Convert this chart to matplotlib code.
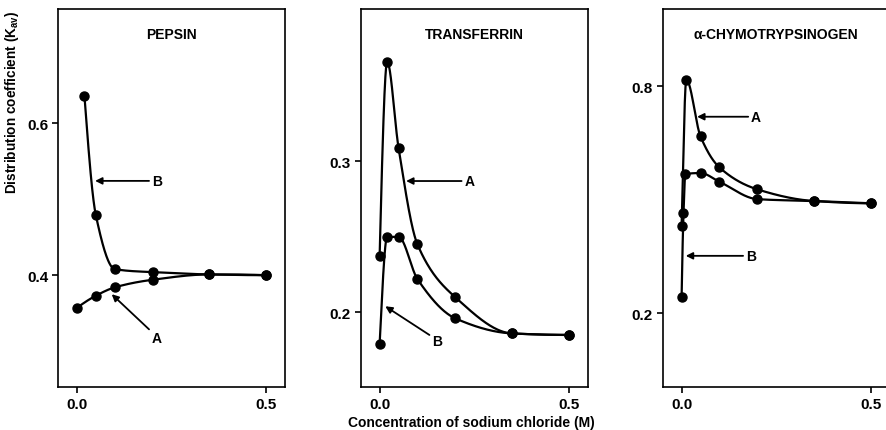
import numpy as np
import matplotlib
matplotlib.use("Agg")
import matplotlib.pyplot as plt

# ---------------- data ----------------
titles = ["PEPSIN", "TRANSFERRIN", "α-CHYMOTRYPSINOGEN"]

pepsin_a_x = [0.0, 0.05, 0.1, 0.2, 0.35, 0.5]
pepsin_a_y = [0.357, 0.373, 0.384, 0.394, 0.401, 0.400]
pepsin_b_x = [0.02, 0.05, 0.1, 0.2, 0.35, 0.5]
pepsin_b_y = [0.635, 0.479, 0.408, 0.404, 0.401, 0.400]

transferrin_a_x = [0.0, 0.02, 0.05, 0.1, 0.2, 0.35, 0.5]
transferrin_a_y = [0.237, 0.366, 0.309, 0.245, 0.210, 0.186, 0.185]
transferrin_b_x = [0.0, 0.02, 0.05, 0.1, 0.2, 0.35, 0.5]
transferrin_b_y = [0.179, 0.250, 0.250, 0.222, 0.196, 0.186, 0.185]

chymo_a_x = [0.0, 0.0125, 0.05, 0.1, 0.2, 0.35, 0.5]
chymo_a_y = [0.431, 0.818, 0.668, 0.586, 0.528, 0.497, 0.491]
chymo_b_x = [0.0, 0.005, 0.01, 0.05, 0.1, 0.2, 0.35, 0.5]
chymo_b_y = [0.243, 0.464, 0.568, 0.571, 0.548, 0.502, 0.497, 0.491]

x_ticks = [0.0, 0.5]
x_ticklabels = ["0.0", "0.5"]
y_ticks = [[0.4, 0.6], [0.2, 0.3], [0.2, 0.8]]
y_ticklabels = [["0.4", "0.6"], ["0.2", "0.3"], ["0.2", "0.8"]]
y_limits = [(0.253, 0.75), (0.1505, 0.401), (0.005, 1.005)]

# annotations: (label, tip_x, tip_y, text_x, text_y, relpos)
annotations = [
    [("B", 0.048, 0.524, 0.198, 0.524, (0, 0.5)),
     ("A", 0.092, 0.375, 0.198, 0.318, (0, 0.9))],
    [("A", 0.070, 0.287, 0.224, 0.287, (0, 0.5)),
     ("B", 0.015, 0.204, 0.139, 0.181, (0, 0.8))],
    [("A", 0.041, 0.720, 0.1835, 0.720, (0, 0.5)),
     ("B", 0.011, 0.352, 0.170, 0.352, (0, 0.5))],
]

series = [
    [(pepsin_a_x, pepsin_a_y), (pepsin_b_x, pepsin_b_y)],
    [(transferrin_a_x, transferrin_a_y), (transferrin_b_x, transferrin_b_y)],
    [(chymo_a_x, chymo_a_y), (chymo_b_x, chymo_b_y)],
]


def pchip_curve(x, y):
    x = np.asarray(x, float)
    y = np.asarray(y, float)
    h = np.diff(x)
    delta = np.diff(y) / h
    m = len(x)
    d = np.zeros(m)
    for k in range(1, m - 1):
        if delta[k - 1] * delta[k] <= 0:
            d[k] = 0.0
        else:
            w1 = 2 * h[k] + h[k - 1]
            w2 = h[k] + 2 * h[k - 1]
            d[k] = (w1 + w2) / (w1 / delta[k - 1] + w2 / delta[k])

    def end(h0, h1, d0, d1):
        v = ((2 * h0 + h1) * d0 - h0 * d1) / (h0 + h1)
        if np.sign(v) != np.sign(d0):
            v = 0.0
        elif np.sign(d0) != np.sign(d1) and abs(v) > abs(3 * d0):
            v = 3 * d0
        return v

    d[0] = end(h[0], h[1], delta[0], delta[1])
    d[-1] = end(h[-1], h[-2], delta[-1], delta[-2])
    xs, ys = [], []
    for k in range(m - 1):
        t = np.linspace(0, 1, 60)
        hk = h[k]
        h00 = 2 * t**3 - 3 * t**2 + 1
        h10 = t**3 - 2 * t**2 + t
        h01 = -2 * t**3 + 3 * t**2
        h11 = t**3 - t**2
        xs.append(x[k] + t * hk)
        ys.append(h00 * y[k] + h10 * hk * d[k] + h01 * y[k + 1] + h11 * hk * d[k + 1])
    return np.concatenate(xs), np.concatenate(ys)


plt.rcParams['font.family'] = ['Liberation Sans', 'DejaVu Sans']
plt.rcParams['font.weight'] = 'bold'
plt.rcParams['mathtext.fontset'] = 'custom'
plt.rcParams['mathtext.rm'] = 'Liberation Sans:bold'
plt.rcParams['mathtext.it'] = 'Liberation Sans:bold'
plt.rcParams['mathtext.bf'] = 'Liberation Sans:bold'

W, H = 887, 431
fig = plt.figure(figsize=(W / 100, H / 100), dpi=100)

ax_px = [(58, 285), (360.7, 587.7), (662.7, 889.5)]
top_px, bot_px = 10, 388

for i in range(3):
    l, r = ax_px[i]
    ax = fig.add_axes([l / W, 1 - bot_px / H, (r - l) / W, (bot_px - top_px) / H])
    for (xs, ys) in series[i]:
        cx, cy = pchip_curve(xs, ys)
        ax.plot(cx, cy, color='black', lw=1.6, solid_capstyle='round')
        ax.plot(xs, ys, 'o', color='black', ms=6.5)
    ax.set_xlim(-0.05, 0.55)
    ax.set_ylim(*y_limits[i])
    ax.set_xticks(x_ticks)
    ax.set_xticklabels(x_ticklabels)
    ax.set_yticks(y_ticks[i])
    ax.set_yticklabels(y_ticklabels[i])
    ax.tick_params(direction='out', length=4, width=1.2, labelsize=11, pad=3)
    for s in ax.spines.values():
        s.set_linewidth(1.2)
    ax.text(0.5, 0.934, titles[i], transform=ax.transAxes, ha='center', va='center',
            fontsize=10, fontweight='bold')
    for (lab, tx, ty, lx, ly, rp) in annotations[i]:
        ax.annotate(lab, xy=(tx, ty), xytext=(lx, ly), ha='left', va='center',
                    fontsize=10, fontweight='bold',
                    arrowprops=dict(arrowstyle='-|>', color='black', lw=1.3,
                                    mutation_scale=10, shrinkA=0, shrinkB=0, relpos=rp))

fig.text(471.5 / W, 1 - 423 / H, "Concentration of sodium chloride (M)", ha='center',
         va='center', fontsize=10, fontweight='bold')
fig.text(12 / W, 1 - 102 / H, r"Distribution coefficient (K$_{\mathrm{av}}$)", rotation=90,
         ha='center', va='center', fontsize=9.8, fontweight='bold')

fig.savefig("out.png", dpi=100)
